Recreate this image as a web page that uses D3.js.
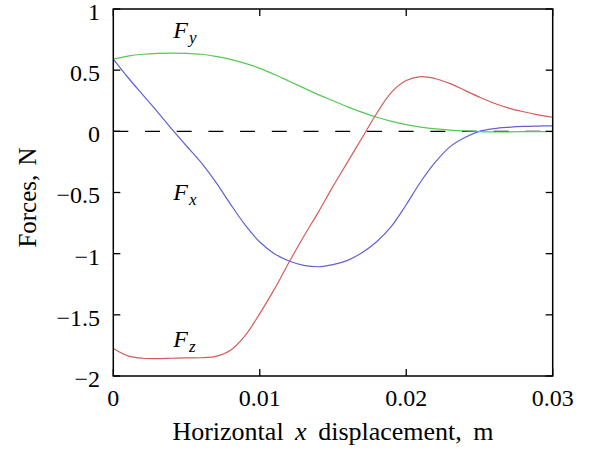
<!DOCTYPE html>
<html><head><meta charset="utf-8">
<script src="https://cdn.jsdelivr.net/npm/d3@7"></script>
<style>
body{margin:0;background:#fff;}
svg{display:block;}
text{font-family:"Liberation Serif","Times New Roman",serif;fill:#000;}
</style></head>
<body>
<script>
const xs = [0,0.001,0.002,0.003,0.004,0.005,0.006,0.007,0.008,0.009,0.010,0.011,0.012,0.013,0.014,0.015,0.016,0.017,0.018,0.019,0.020,0.021,0.022,0.023,0.024,0.025,0.026,0.027,0.028,0.029,0.030];
const Fx = [0.59,0.44,0.30,0.162,0.018,-0.12,-0.255,-0.415,-0.595,-0.765,-0.905,-1.00,-1.06,-1.095,-1.107,-1.09,-1.055,-0.99,-0.90,-0.775,-0.60,-0.41,-0.25,-0.125,-0.05,0.00,0.022,0.033,0.040,0.043,0.045];
const Fy = [0.59,0.615,0.630,0.638,0.640,0.638,0.630,0.612,0.588,0.555,0.515,0.465,0.410,0.355,0.300,0.250,0.200,0.155,0.115,0.082,0.055,0.035,0.020,0.010,0.003,-0.002,-0.004,-0.004,-0.003,-0.002,-0.002];
const Fz = [-1.775,-1.835,-1.855,-1.858,-1.855,-1.852,-1.851,-1.84,-1.79,-1.67,-1.49,-1.29,-1.07,-0.86,-0.66,-0.45,-0.25,-0.05,0.15,0.32,0.415,0.447,0.43,0.39,0.335,0.28,0.23,0.19,0.16,0.135,0.115];
const xTicks = [0,0.01,0.02,0.03];
const xTickLabels = ["0","0.01","0.02","0.03"];
const yTicks = [1,0.5,0,-0.5,-1,-1.5,-2];
const yTickLabels = ["1","0.5","0","\u22120.5","\u22121","\u22121.5","\u22122"];
const seriesNames = ["x","y","z"];
const labelPos = [[0.0041,-0.562],[0.0041,0.763],[0.0041,-1.764]];
const colors = ["#6161d4","#55c955","#d45c5c"];

const W=592,H=455;
const L=113.3,R=552.7,T=9,B=376;
const svg=d3.select("body").append("svg").attr("width",W).attr("height",H);
const x=d3.scaleLinear().domain([0,0.03]).range([L,R]);
const y=d3.scaleLinear().domain([-2,1]).range([B,T]);

// zero dashed line
svg.append("line").attr("x1",x(0)).attr("x2",x(0.03)).attr("y1",y(0)).attr("y2",y(0))
  .attr("stroke","#000").attr("stroke-width",1.3).attr("stroke-dasharray","15,16.7");

const line=d3.line().x((d,i)=>x(xs[i])).y(d=>y(d)).curve(d3.curveCatmullRom.alpha(0.5));
[Fx,Fy,Fz].forEach((s,k)=>{
  svg.append("path").datum(s).attr("d",line).attr("fill","none")
    .attr("stroke",colors[k]).attr("stroke-width",1.2);
});

// frame
svg.append("rect").attr("x",L).attr("y",T).attr("width",R-L).attr("height",B-T)
  .attr("fill","none").attr("stroke","#000").attr("stroke-width",1.5);

const tl=7, fs=24;
const g=svg.append("g");
xTicks.forEach((v,i)=>{
  g.append("line").attr("x1",x(v)).attr("x2",x(v)).attr("y1",B).attr("y2",B-tl).attr("stroke","#000").attr("stroke-width",1.3);
  g.append("line").attr("x1",x(v)).attr("x2",x(v)).attr("y1",T).attr("y2",T+tl).attr("stroke","#000").attr("stroke-width",1.3);
  g.append("text").attr("x",x(v)).attr("y",406).attr("text-anchor","middle").attr("font-size",fs).text(xTickLabels[i]);
});
yTicks.forEach((v,i)=>{
  g.append("line").attr("x1",L).attr("x2",L+tl).attr("y1",y(v)).attr("y2",y(v)).attr("stroke","#000").attr("stroke-width",1.3);
  g.append("line").attr("x1",R).attr("x2",R-tl).attr("y1",y(v)).attr("y2",y(v)).attr("stroke","#000").attr("stroke-width",1.3);
  g.append("text").attr("x",100).attr("y",y(v)+3).attr("dy","0.33em").attr("text-anchor","end").attr("font-size",fs).text(yTickLabels[i]);
});

// axis titles
const xt=svg.append("text").attr("x",(L+R)/2).attr("y",440).attr("text-anchor","middle").attr("font-size",26)
  .attr("word-spacing",5);
xt.append("tspan").text("Horizontal ");
xt.append("tspan").attr("font-style","italic").text("x");
xt.append("tspan").text(" displacement, m");
svg.append("text").attr("transform",`translate(36,${(T+B)/2+5}) rotate(-90)`).attr("text-anchor","middle").attr("font-size",25)
  .attr("word-spacing",3).text("Forces, N");

// series labels
seriesNames.forEach((n,k)=>{
  const t=svg.append("text").attr("x",x(labelPos[k][0])).attr("y",y(labelPos[k][1])).attr("font-size",fs).attr("font-style","italic");
  t.append("tspan").text("F");
  t.append("tspan").attr("font-size",17).attr("dy",5).attr("dx",1).text(n);
});
</script>
</body></html>
